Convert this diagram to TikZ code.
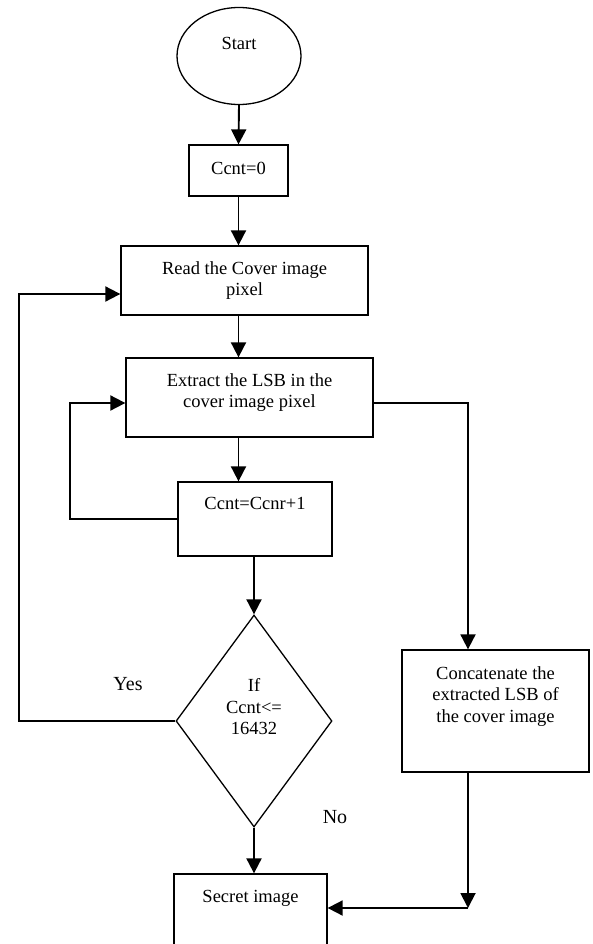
\documentclass[tikz,border=0pt]{standalone}
\usepackage{fontspec}
\setmainfont{Liberation Serif}
\usetikzlibrary{shapes.geometric,arrows.meta,positioning}
\tikzset{
    shapebox/.style={draw, line width=1.3pt, inner sep=0pt},
    txt/.style={font=\fontsize{18.5}{21.5}\selectfont, align=center, inner sep=0pt},
    lbl/.style={font=\fontsize{20}{24}\selectfont, inner sep=0pt},
    arr/.style={line width=1.9pt, -{Triangle[length=15pt,width=15pt]}}
}
\begin{document}
\begin{tikzpicture}[x=1pt, y=-1pt]
    \useasboundingbox (0,0) rectangle (593,944);
    % shapes
    \node[shapebox, ellipse, minimum width=124pt, minimum height=97pt] (start) at (239,56) {};
    \node[shapebox, rectangle, minimum width=99pt, minimum height=51pt] (init) at (238.5,170.5) {};
    \node[shapebox, rectangle, minimum width=247pt, minimum height=69pt] (read) at (244.5,280.5) {};
    \node[shapebox, rectangle, minimum width=247pt, minimum height=79pt] (extract) at (249.5,397.5) {};
    \node[shapebox, rectangle, minimum width=154pt, minimum height=74pt] (incr) at (255,519) {};
    \node[shapebox, diamond, minimum width=156pt, minimum height=212pt] (cond) at (254,721) {};
    \node[shapebox, rectangle, minimum width=187pt, minimum height=122pt] (concat) at (495.5,711) {};
    \node[shapebox, rectangle, minimum width=153pt, minimum height=100pt] (secret) at (250.5,924) {};
    % texts
    \node[txt, below=30pt of start.north] (starttxt) {Start};
    \node[txt, below=18pt of init.north] (inittxt) {Ccnt=0};
    \node[txt, below=16pt of read.north] (readtxt) {Read the Cover image\\pixel};
    \node[txt, below=16pt of extract.north] (extracttxt) {Extract the LSB in the\\cover image pixel};
    \node[txt, below=16pt of incr.north] (incrtxt) {Ccnt=Ccnr+1};
    \node[txt, below=64pt of cond.north] (condtxt) {If\\Ccnt<=\\16432};
    \node[txt, below=17pt of concat.north] (concattxt) {Concatenate the\\extracted LSB of\\the cover image};
    \node[txt, below=17pt of secret.north] (secrettxt) {Secret image};
    \node[lbl] (yeslbl) at (128,684) {Yes};
    \node[lbl] (nolbl) at (335,817) {No};
    % corners
    \coordinate (yesloop) at (19,294);
    \coordinate (incrloop) at (70,403);
    \coordinate (lsbturn) at (468,403);
    \coordinate (joinpt) at (468,908);
    % main line
    \draw[arr] (start.south) -- (init.north);
    \draw[arr] (init.south) -- (init.south |- read.north);
    \draw[arr] (read.south -| init.south) -- (extract.north -| init.south);
    \draw[arr] (extract.south -| init.south) -- (incr.north -| init.south);
    \draw[arr] (incr.south -| cond.north) -- (cond.north);
    \draw[arr] (cond.south) -- (cond.south |- secret.north);
    % loops
    \draw[arr] (incr.west) -| (incrloop) -- (incrloop -| extract.west);
    \draw[arr] (cond.west) -| (yesloop) -- (yesloop -| read.west);
    % right branch
    \draw[arr] (lsbturn -| extract.east) -- (lsbturn) -- (lsbturn |- concat.north);
    \draw[arr] (lsbturn |- concat.south) -- (joinpt);
    \draw[arr] (joinpt) -- (joinpt -| secret.east);
\end{tikzpicture}
\end{document}
